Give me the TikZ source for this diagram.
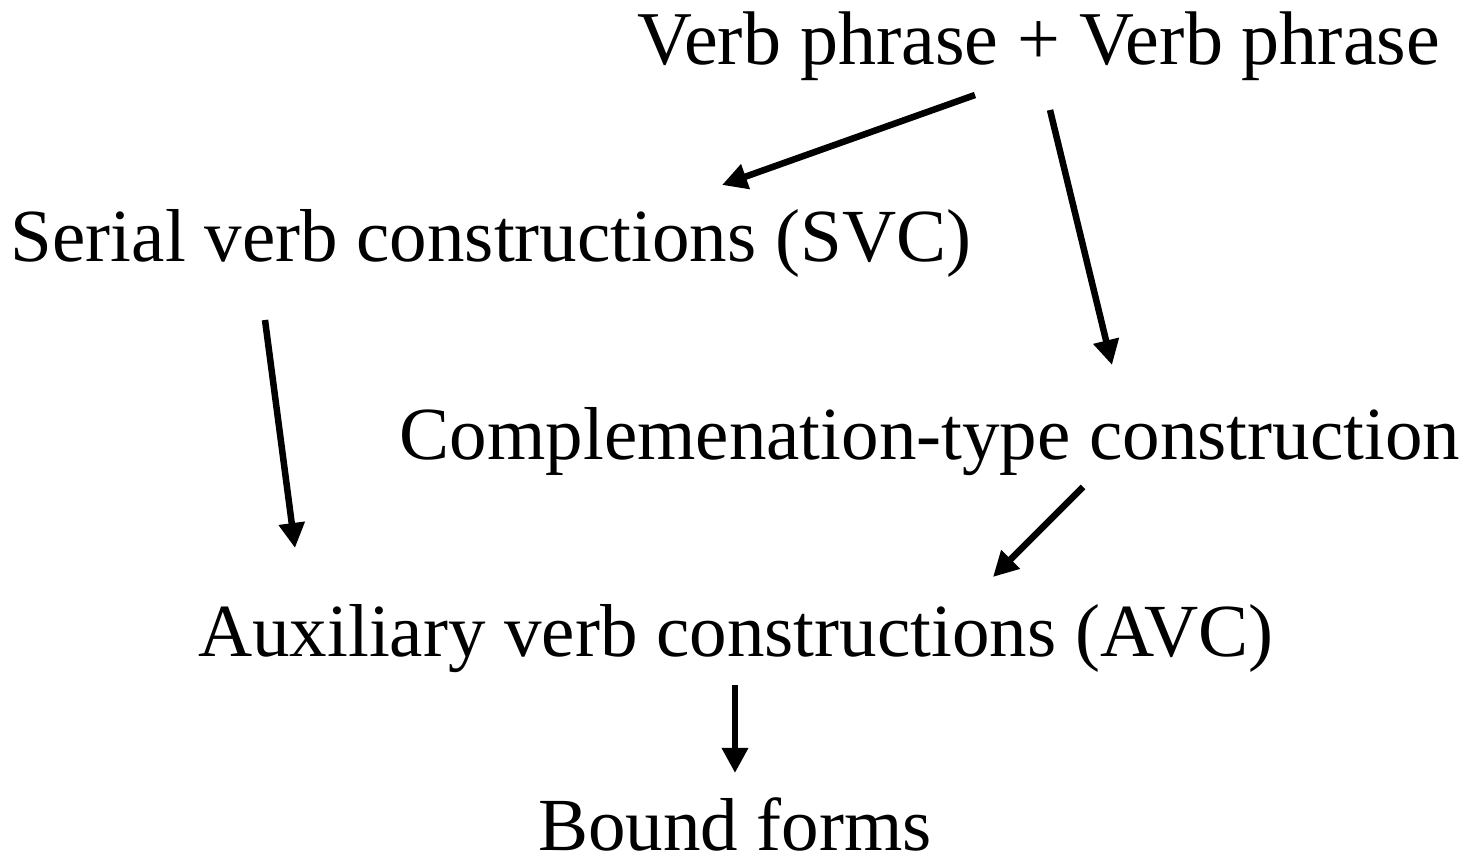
\documentclass[tikz,border=0pt]{standalone}
\usepackage{fontspec}
\setmainfont{Liberation Serif}
\usetikzlibrary{arrows.meta}

\begin{document}
\begin{tikzpicture}[x=1pt,y=1pt,
		phrase/.style={inner sep=0pt, anchor=base, font=\fontsize{75}{82}\selectfont},
		arr/.style={line width=6.5pt, black, -{Triangle[length=25pt,width=25pt]}}]
		\useasboundingbox (0,0) rectangle (1467,857);
%		\draw[step=100,gray!30] (0,0) grid (1467,857);
		\node[phrase, font=\fontsize{76}{82}\selectfont] (vp) at (1039,792) {Verb phrase + Verb phrase};
		\node[phrase] (svc) at (491,595) {Serial verb constructions (SVC)};
		\node[phrase] (comp) at (930,397) {Complemenation-type construction};
		\node[phrase] (avc) at (736,200) {Auxiliary verb constructions (AVC)};
		\node[phrase] (bound) at (735,7) {Bound forms};
		\draw[arr] ([shift={(-64,-30)}]vp.base) -- ([shift={(231,77)}]svc.base);
		\draw[arr] ([shift={(11,-45)}]vp.base) -- ([shift={(182,95)}]comp.base);
		\draw[arr] ([shift={(-226,-58)}]svc.base) -- ([shift={(-441,109)}]avc.base);
		\draw[arr] ([shift={(153,-27)}]comp.base) -- ([shift={(257,80)}]avc.base);
		\draw[arr] ([shift={(-1,-28)}]avc.base) -- ([shift={(0,77)}]bound.base);
	\end{tikzpicture}
\end{document}
